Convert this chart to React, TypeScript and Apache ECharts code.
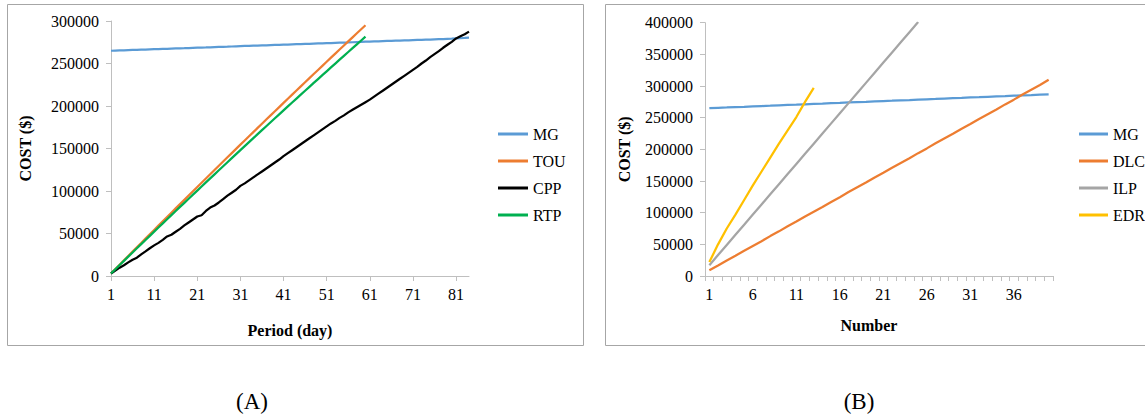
import React, { useEffect, useRef } from "react";
import * as echarts from "echarts";

// ---- Chart (A): cost vs period (day) ----
const periodDays: string[] = Array.from({ length: 84 }, (_, i) => String(i + 1));
const mgA = [
  265000, 265200, 265400, 265500, 265700, 265900, 266100, 266300, 266400, 266600,
  266800, 267000, 267200, 267300, 267500, 267700, 267900, 268000, 268200, 268400,
  268600, 268800, 268900, 269100, 269300, 269500, 269700, 269800, 270000, 270200,
  270400, 270600, 270700, 270900, 271100, 271300, 271400, 271600, 271800, 272000,
  272200, 272300, 272500, 272700, 272900, 273100, 273200, 273400, 273600, 273800,
  274000, 274100, 274300, 274500, 274700, 274800, 275000, 275200, 275400, 275600,
  275700, 275900, 276100, 276300, 276500, 276600, 276800, 277000, 277200, 277300,
  277500, 277700, 277900, 278100, 278200, 278400, 278600, 278800, 279000, 279200,
  279500, 279800, 280100, 280500,
];
const touA = [
  3000, 8150, 13290, 18430, 23560, 28680, 33800, 38900, 44010, 49100,
  54190, 59270, 64340, 69410, 74470, 79530, 84570, 89610, 94640, 99670,
  104690, 109700, 114710, 119700, 124700, 129680, 134660, 139630, 144590, 149550,
  154500, 159440, 164380, 169310, 174230, 179140, 184050, 188950, 193850, 198740,
  203620, 208490, 213360, 218220, 223070, 227920, 232760, 237590, 242420, 247240,
  252050, 256850, 261650, 266440, 271230, 276000, 280770, 285540, 290290, 295000,
];
const cppA = [
  3000, 6500, 9800, 12600, 16000, 19200, 21500, 25500, 29000, 32600,
  36000, 39000, 42500, 46500, 48500, 52000, 55500, 59500, 63000, 66500,
  70000, 71500, 76500, 80500, 83000, 86500, 90500, 94500, 98000, 101500,
  106000, 109000, 112500, 116000, 119500, 123000, 126500, 130000, 133500, 137000,
  141000, 144500, 148000, 151500, 155000, 158500, 162000, 165500, 169000, 172500,
  176000, 179500, 182500, 186000, 189000, 192500, 195500, 198500, 201500, 204500,
  207500, 211000, 214500, 218000, 221500, 225000, 228500, 232000, 235500, 239000,
  242500, 246000, 250000, 253500, 257500, 261000, 264500, 268500, 272000, 275500,
  279500, 282000, 284500, 287500,
];
const rtpA = [
  3000, 7950, 12890, 17830, 22750, 27670, 32580, 37480, 42380, 47270,
  52140, 57020, 61880, 66730, 71580, 76420, 81250, 86080, 90890, 95700,
  100500, 105290, 110080, 114850, 119620, 124380, 129130, 133880, 138610, 143340,
  148060, 152780, 157480, 162180, 166870, 171550, 176220, 180890, 185550, 190200,
  194840, 199470, 204100, 208720, 213330, 217930, 222520, 227110, 231690, 236260,
  240820, 245380, 249920, 254460, 259000, 263520, 268030, 272540, 277040, 281530,
];
const yTicksA = { min: 0, max: 300000, interval: 50000 };

// ---- Chart (B): cost vs number ----
const numbers: string[] = Array.from({ length: 40 }, (_, i) => String(i + 1));
const mgB = [
  265000, 265600, 266100, 266700, 267200, 267800, 268400, 268900, 269500, 270100,
  270600, 271200, 271800, 272300, 272900, 273400, 274000, 274600, 275100, 275700,
  276300, 276800, 277400, 277900, 278500, 279100, 279600, 280200, 280800, 281300,
  281900, 282400, 283000, 283600, 284100, 284700, 285300, 285800, 286400, 287000,
];
const dlcB = [
  9000, 16500, 24500, 32000, 40000, 47500, 55000, 63000, 70500, 78500,
  86000, 94000, 101500, 109000, 117000, 124500, 132500, 140000, 147500, 155500,
  163000, 171000, 178500, 186000, 194000, 201500, 209500, 217000, 224500, 232500,
  240000, 248000, 255500, 263000, 271000, 278500, 286500, 294000, 301500, 310000,
];
const ilpB = [
  17000, 33000, 49000, 65000, 81000, 97000, 113000, 129000, 145000, 161000,
  177000, 193000, 209000, 225000, 241000, 257000, 273000, 289000, 305000, 321000,
  337000, 353000, 369000, 385000, 401000,
];
const edrB = [
  22000, 50000, 75000, 97000, 120000, 143000, 165000, 187000, 209000, 230000,
  251000, 275000, 297000,
];
const yTicksB = { min: 0, max: 400000, interval: 50000 };

const FONT = '"Times New Roman", "Liberation Serif", serif';
const AXIS_GREY = "#bfbfbf";
const COLORS = { MG: "#5B9BD5", TOU: "#ED7D31", CPP: "#000000", RTP: "#00B050", DLC: "#ED7D31", ILP: "#A5A5A5", EDR: "#FFC000" };

function lineSeries(name: string, data: number[], idx: number, color: string) {
  return {
    name,
    type: "line",
    data,
    xAxisIndex: idx,
    yAxisIndex: idx,
    symbol: "none",
    showSymbol: false,
    lineStyle: { color, width: 2.25 },
    itemStyle: { color },
    clip: true,
  };
}

export default function App() {
  const ref = useRef<HTMLDivElement>(null);
  useEffect(() => {
    if (!ref.current) return;
    const chart = echarts.init(ref.current, undefined, { renderer: "svg" });
    const labelStyle = { color: "#000", fontSize: 16, fontFamily: FONT };
    const nameStyle = { color: "#000", fontSize: 16, fontFamily: FONT, fontWeight: "bold" as const };
    const axisLine = { show: true, lineStyle: { color: AXIS_GREY, width: 1 } };
    const legendCommon = {
      orient: "vertical", top: 125, padding: 0, icon: "rect", itemHeight: 3, itemGap: 9,
      textStyle: { ...labelStyle, lineHeight: 18 }, selectedMode: false,
    };
    const option: any = {
      animation: false,
      backgroundColor: "#fff",
      grid: [
        { left: 111, top: 21, width: 358, height: 255 },
        { left: 705, top: 22.7, width: 348, height: 253.3 },
      ],
      xAxis: [
        {
          gridIndex: 0, type: "category", data: periodDays, boundaryGap: false,
          axisLine, axisTick: { show: true, interval: 9, length: 5, lineStyle: { color: AXIS_GREY } },
          axisLabel: { ...labelStyle, interval: 9, margin: 10 },
          splitLine: { show: false },
          name: "Period (day)", nameLocation: "middle", nameGap: 46, nameTextStyle: nameStyle,
        },
        {
          gridIndex: 1, type: "category", data: numbers, boundaryGap: true,
          axisLine, axisTick: { show: true, interval: 0, length: 5, lineStyle: { color: AXIS_GREY } },
          axisLabel: { ...labelStyle, interval: 4, margin: 10 },
          splitLine: { show: false },
          name: "Number", nameLocation: "middle", nameGap: 41,
          nameTextStyle: { ...nameStyle, padding: [0, 20, 0, 0] },
        },
      ],
      yAxis: [
        {
          gridIndex: 0, type: "value", ...yTicksA,
          axisLine, axisTick: { show: true, length: 5, lineStyle: { color: AXIS_GREY } },
          axisLabel: { ...labelStyle, margin: 12, formatter: (v: number) => String(v) },
          splitLine: { show: false },
          name: "COST ($)", nameLocation: "middle", nameGap: 78, nameTextStyle: nameStyle,
        },
        {
          gridIndex: 1, type: "value", ...yTicksB,
          axisLine, axisTick: { show: true, length: 5, lineStyle: { color: AXIS_GREY } },
          axisLabel: { ...labelStyle, margin: 12, formatter: (v: number) => String(v) },
          splitLine: { show: false },
          name: "COST ($)", nameLocation: "middle", nameGap: 73, nameTextStyle: nameStyle,
        },
      ],
      legend: [
        { ...legendCommon, left: 498, itemWidth: 30, data: ["MG", "TOU", "CPP", "RTP"] },
        { ...legendCommon, left: 1079, itemWidth: 29, data: ["MG", "DLC", "ILP", "EDR"] },
      ],
      graphic: [
        { type: "rect", shape: { x: 7.5, y: 4.5, width: 576, height: 341 }, style: { fill: "none", stroke: "#a6a6a6", lineWidth: 1 }, silent: true },
        { type: "rect", shape: { x: 605.5, y: 4.5, width: 545, height: 341 }, style: { fill: "none", stroke: "#a6a6a6", lineWidth: 1 }, silent: true },
        { type: "text", x: 252, y: 401, style: { text: "(A)", font: `23px ${FONT}`, fill: "#000", textAlign: "center", textVerticalAlign: "middle" } },
        { type: "text", x: 859, y: 401, style: { text: "(B)", font: `23px ${FONT}`, fill: "#000", textAlign: "center", textVerticalAlign: "middle" } },
      ],
      series: [
        lineSeries("MG", mgA, 0, COLORS.MG),
        lineSeries("TOU", touA, 0, COLORS.TOU),
        lineSeries("CPP", cppA, 0, COLORS.CPP),
        lineSeries("RTP", rtpA, 0, COLORS.RTP),
        lineSeries("MG", mgB, 1, COLORS.MG),
        lineSeries("DLC", dlcB, 1, COLORS.DLC),
        lineSeries("ILP", ilpB, 1, COLORS.ILP),
        lineSeries("EDR", edrB, 1, COLORS.EDR),
      ],
    };
    chart.setOption(option);
    return () => chart.dispose();
  }, []);
  return (
    <div
      ref={ref}
      style={{ position: "absolute", left: 0, top: 0, width: 1145, height: 417, background: "#fff" }}
    />
  );
}
